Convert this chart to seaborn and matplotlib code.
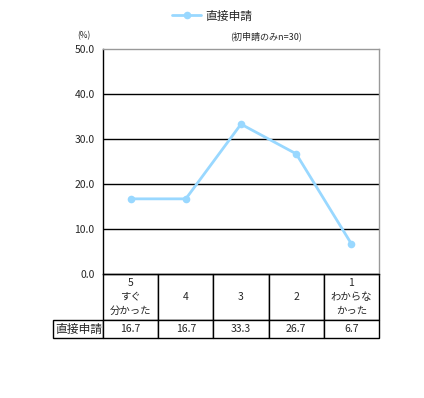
import numpy as np
import pandas as pd
import matplotlib
matplotlib.use("Agg")
import matplotlib.pyplot as plt
from matplotlib.table import Table
import seaborn as sns

categories = ["5\nすぐ\n分かった", "4", "3", "2", "1\nわからな\nかった"]
values = [16.7, 16.7, 33.3, 26.7, 6.7]
series_name = "直接申請"
y_ticks = [0, 10, 20, 30, 40, 50]

sns.set_style("white")
plt.rcParams["font.family"] = ["Noto Sans CJK JP", "DejaVu Sans"]

df = pd.DataFrame({"pos": np.arange(len(values)), "value": values, "series": series_name})

fig = plt.figure(figsize=(4.24, 3.98), dpi=100)
ax = fig.add_axes([103 / 424, 1 - 274 / 398, 276 / 424, 225 / 398])

sns.lineplot(data=df, x="pos", y="value", hue="series", palette=["#99d8ff"],
             marker="o", markersize=5.5, markeredgewidth=0, linewidth=2, ax=ax)

ax.set_xlim(-0.5, len(values) - 0.5)
ax.set_ylim(0, 50)
ax.set_yticks(y_ticks)
ax.set_yticklabels([f"{v:.1f}" for v in y_ticks], fontsize=7.5)
ax.set_xticks([])
ax.set_xlabel("")
ax.set_ylabel("")
ax.tick_params(axis="y", length=0, pad=6)
for v in y_ticks[1:-1]:
    ax.axhline(v, color="black", linewidth=1, zorder=0)
ax.spines["left"].set_color("black")
ax.spines["bottom"].set_color("black")
ax.spines["top"].set_color("#999999")
ax.spines["right"].set_color("#999999")
for s in ax.spines.values():
    s.set_linewidth(1)

leg = ax.legend(loc="center", bbox_to_anchor=(212 / 424, 1 - 16 / 398),
                bbox_transform=fig.transFigure, frameon=False, fontsize=8.5,
                handlelength=2.5, handletextpad=0.3)

fig.text(84 / 424, 1 - 36 / 398, "(%)", fontsize=6, ha="center", va="center")
fig.text(266 / 424, 1 - 36 / 398, "(初申請のみn=30)", fontsize=6.5, ha="center", va="center")

# data table under the plot
tbl = Table(ax, bbox=[0, -64 / 225, 1, 64 / 225])
tbl.auto_set_font_size(False)
col_w = 1 / len(categories)
for j, lab in enumerate(categories):
    tbl.add_cell(0, j, col_w, 46 / 225, text=lab, loc="center")
for j, v in enumerate(values):
    tbl.add_cell(1, j, col_w, 18 / 225, text=f"{v:.1f}", loc="center")
tbl.add_cell(1, -1, 50 / 276, 18 / 225, text=series_name, loc="left")
tbl.set_fontsize(7.5)
for (r, c), cell in tbl.get_celld().items():
    cell.set_linewidth(1)
    cell.set_edgecolor("black")
    cell.PAD = 0.04
    cell.get_text().set_linespacing(1.45)
    if c == -1:
        cell.get_text().set_fontsize(8.5)
ax.add_table(tbl)

fig.savefig("out.png", dpi=100)
